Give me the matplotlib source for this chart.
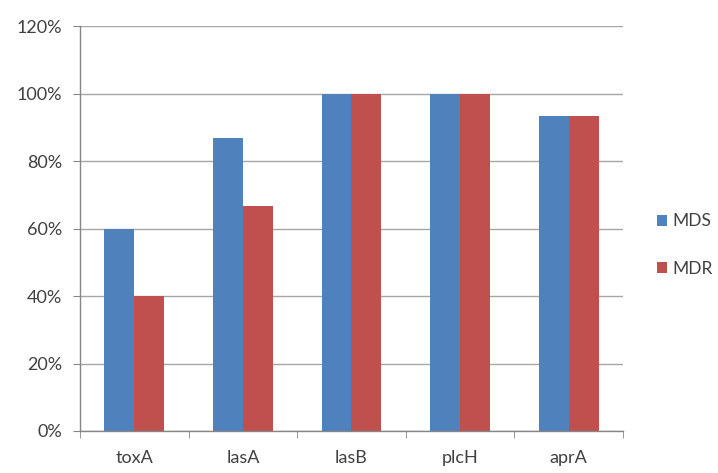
import matplotlib.pyplot as plt
import numpy as np
from matplotlib.ticker import FuncFormatter

genes = ['toxA', 'lasA', 'lasB', 'plcH', 'aprA']
mds = [60.0, 86.7, 100.0, 100.0, 93.3]
mdr = [40.0, 66.7, 100.0, 100.0, 93.3]

plt.rcParams['font.family'] = ['Lato', 'DejaVu Sans']

fig = plt.figure(figsize=(7.18, 4.73), dpi=100)
ax = fig.add_axes([0.1114, 0.0888, 0.7563, 0.8562])

x = np.arange(len(genes))
w = 0.276
ax.bar(x - w / 2, mds, w, color='#4F81BD', label='MDS', zorder=3)
ax.bar(x + w / 2, mdr, w, color='#C0504D', label='MDR', zorder=3)

ax.set_xlim(-0.5, len(genes) - 0.5)
ax.set_ylim(0, 120)
ax.set_yticks(np.arange(0, 121, 20))
ax.yaxis.set_major_formatter(FuncFormatter(lambda v, p: f'{int(v)}%'))
ax.grid(axis='y', color='#A6A6A6', linewidth=1.0, zorder=0)

ax.set_xticks(x)
ax.set_xticklabels(genes)
ax.set_xticks(np.arange(-0.5, len(genes), 1), minor=True)
ax.tick_params(axis='x', which='major', length=0, pad=14)
ax.tick_params(axis='x', which='minor', length=5, color='#868686', direction='out')
ax.tick_params(axis='y', length=5, color='#868686', pad=8)
ax.tick_params(labelsize=13, labelcolor='#404040')

for side in ['top', 'right']:
    ax.spines[side].set_visible(False)
for side in ['left', 'bottom']:
    ax.spines[side].set_color('#868686')
    ax.spines[side].set_linewidth(1.0)
ax.spines['bottom'].set_zorder(4)

ax.legend(loc='center left', bbox_to_anchor=(1.062, 0.459), frameon=False,
          borderpad=0, borderaxespad=0,
          fontsize=12.5, handlelength=0.6, handleheight=0.6, handletextpad=0.3,
          labelspacing=1.8, labelcolor='#404040')

fig.savefig('out.png', dpi=100)
